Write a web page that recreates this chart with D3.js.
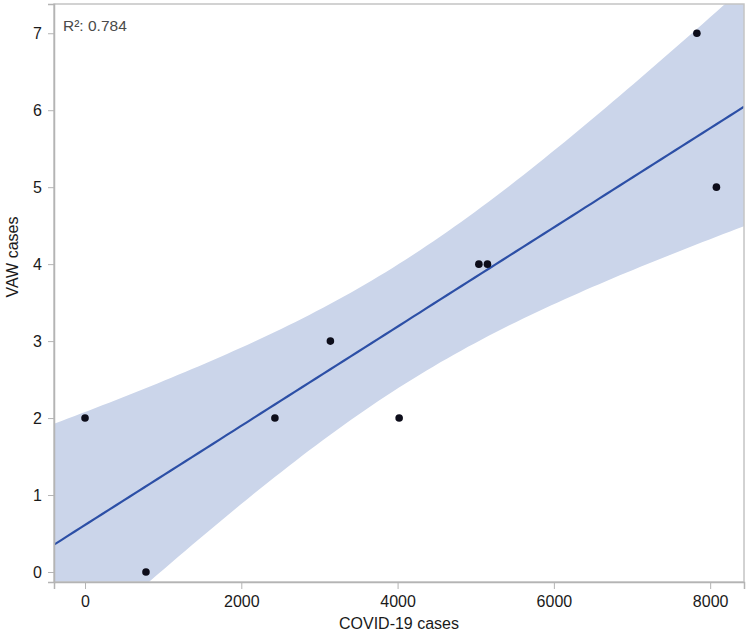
<!DOCTYPE html>
<html>
<head>
  <script src="https://d3js.org/d3.v7.min.js"></script>
  <style>
    body { margin: 0; background: #fff; overflow: hidden; }
    svg { display: block; font-family: "Liberation Sans", Arial, sans-serif; }
    .tick text { font-size: 16px; fill: #1a1a1a; }
    .tick line, .domain { stroke: #b4b4b4; }
    .axis-title { font-size: 16px; fill: #1a1a1a; }
  </style>
</head>
<body>
<svg width="750" height="636"></svg>
<script>
// Data
const covidCases = [0, 780, 2430, 3140, 4020, 5040, 5150, 7830, 8080];
const vawCases = [2, 0, 2, 3, 2, 4, 4, 7, 5];
const xTicks = [0, 2000, 4000, 6000, 8000];
const yTicks = [0, 1, 2, 3, 4, 5, 6, 7];
const r2Label = "R²: 0.784";

const svg = d3.select("svg");
const margin = { top: 4, right: 6, bottom: 54, left: 54 };
const width = 750, height = 636;
const innerWidth = width - margin.left - margin.right;
const innerHeight = height - margin.top - margin.bottom;

const x = d3.scaleLinear().domain([-397, 8433]).range([0, innerWidth]);
const y = d3.scaleLinear().domain([-0.13, 7.38]).range([innerHeight, 0]);

// Linear fit with 95% confidence band
const n = covidCases.length;
const xm = d3.mean(covidCases), ym = d3.mean(vawCases);
let sxx = 0, sxy = 0, syy = 0;
covidCases.forEach((v, i) => {
  sxx += (v - xm) ** 2;
  sxy += (v - xm) * (vawCases[i] - ym);
  syy += (vawCases[i] - ym) ** 2;
});
const slope = sxy / sxx, intercept = ym - slope * xm;
const r2 = (sxy * sxy) / (sxx * syy);
const s = Math.sqrt(syy * (1 - r2) / (n - 2));
const tCrit = 2.365; // t(0.975, df = 7)
const [x0, x1] = x.domain();
const grid = d3.range(0, 101).map(i => x0 + (x1 - x0) * i / 100);
const band = grid.map(v => {
  const fit = intercept + slope * v;
  const half = tCrit * s * Math.sqrt(1 / n + (v - xm) ** 2 / sxx);
  return { x: v, fit, lo: fit - half, hi: fit + half };
});

const chart = svg.append("g").attr("transform", `translate(${margin.left},${margin.top})`);

chart.append("clipPath").attr("id", "clip")
  .append("rect").attr("width", innerWidth).attr("height", innerHeight);

const plot = chart.append("g").attr("clip-path", "url(#clip)");

plot.append("path")
  .datum(band)
  .attr("fill", "#cbd5ea")
  .attr("d", d3.area().x(d => x(d.x)).y0(d => y(d.lo)).y1(d => y(d.hi)));

plot.append("path")
  .datum(band)
  .attr("fill", "none")
  .attr("stroke", "#2c4fa6")
  .attr("stroke-width", 2.2)
  .attr("d", d3.line().x(d => x(d.x)).y(d => y(d.fit)));

plot.selectAll("circle")
  .data(covidCases)
  .enter().append("circle")
  .attr("cx", d => x(d))
  .attr("cy", (d, i) => y(vawCases[i]))
  .attr("r", 3.8)
  .attr("fill", "#0d0d1a");

// Frame
chart.append("rect")
  .attr("width", innerWidth).attr("height", innerHeight)
  .attr("fill", "none").attr("stroke", "#c4c4c4").attr("stroke-width", 1.5);

chart.append("g")
  .attr("transform", `translate(0,${innerHeight})`)
  .call(d3.axisBottom(x).tickValues(xTicks).tickSize(7).tickPadding(7).tickFormat(d3.format("d")))
  .call(g => g.select(".domain").attr("stroke-width", 1.5));

chart.append("g")
  .call(d3.axisLeft(y).tickValues(yTicks).tickSize(6).tickPadding(6))
  .call(g => g.select(".domain").attr("stroke-width", 1.5));

chart.append("text")
  .attr("x", 9).attr("y", 27)
  .attr("font-size", 15.5).attr("fill", "#4a4a4a")
  .text(r2Label);

svg.append("text")
  .attr("class", "axis-title")
  .attr("x", margin.left + innerWidth / 2).attr("y", 629)
  .attr("text-anchor", "middle")
  .text("COVID-19 cases");

svg.append("text")
  .attr("class", "axis-title")
  .attr("transform", "translate(18,257) rotate(-90)")
  .attr("text-anchor", "middle")
  .text("VAW cases");
</script>
</body>
</html>
